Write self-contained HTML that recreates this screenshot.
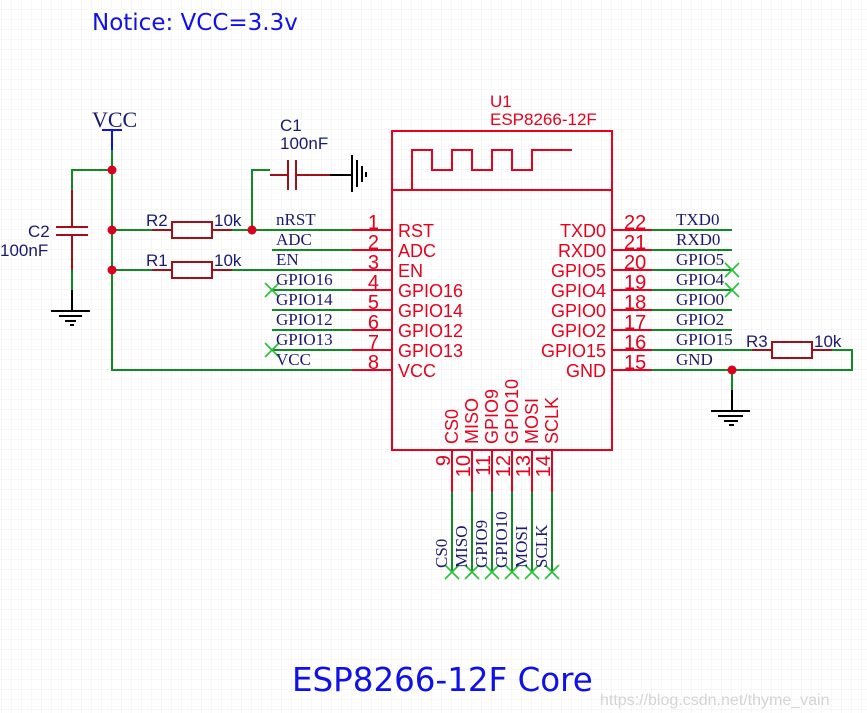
<!DOCTYPE html>
<html><head><meta charset="utf-8"><style>
html,body{margin:0;padding:0;background:#fff;}
svg{display:block}
.s{font-family:"Liberation Serif",serif;font-size:17px;fill:#1a1a6e}
.r{font-family:"Liberation Sans",sans-serif;fill:#e8001c}
.a{font-family:"Liberation Sans",sans-serif;fill:#1a1a6e;font-size:17px}
</style></head><body>
<svg width="867" height="713" viewBox="0 0 867 713" xmlns="http://www.w3.org/2000/svg">
<defs><pattern id="g" width="10" height="10" patternUnits="userSpaceOnUse" x="2" y="0"><path d="M10 0V10M0 10H10" stroke="#efefef" stroke-width="1" fill="none"/></pattern></defs>
<rect width="867" height="713" fill="url(#g)"/>
<text x="92" y="30" font-family="DejaVu Sans,Liberation Sans,sans-serif" font-size="23" fill="#1010e8">Notice: VCC=3.3v</text>
<text x="292" y="691" font-family="DejaVu Sans,Liberation Sans,sans-serif" font-size="32.5" fill="#1010e8">ESP8266-12F Core</text>
<text x="600" y="705" font-family="Liberation Sans,sans-serif" font-size="16" fill="#d4d4d4">https://blog.csdn.net/thyme_vain</text>

<g fill="none" stroke-width="2">
<g stroke="#e8001c">
<rect x="392" y="131" width="220" height="319"/>
<path d="M392 190H612"/>
<path d="M412 190V150H432V170H452V150H472V170H492V150H512V170H532V150H572"/>
<path d="M352 230H392M352 250H392M352 270H392M352 290H392M352 310H392M352 330H392M352 350H392M352 370H392"/>
<path d="M612 230H652M612 250H652M612 270H652M612 290H652M612 310H652M612 330H652M612 350H652M612 370H652"/>
<path d="M452 450V492M472 450V492M492 450V492M512 450V492M532 450V492M552 450V492"/>
</g>
<g stroke="#118a22">
<path d="M272 250H352M272 290H352M272 310H352M272 330H352M272 350H352"/>
<path d="M652 230H732M652 250H732M652 270H732M652 290H732M652 310H732M652 330H732"/>
<path d="M452 492V572M472 492V572M492 492V572M512 492V572M532 492V572M552 492V572"/>
<path d="M112 150V370H352"/>
<path d="M112 170H72V190M72 270V290"/>
<path d="M112 230H152M232 230H352M112 270H152M232 270H352"/>
<path d="M252 230V170H270"/>
<path d="M652 350H752M832 350H852V370H652M732 370V390"/>
</g>
<g stroke="#1010e8"><path d="M112 130V150M102 130H122"/></g>
<g stroke="#a01018">
<path d="M72 190V227M72 235V270M56 227H88M56 235H88"/>
<path d="M152 230H172M212 230H232M152 270H172M212 270H232"/>
<rect x="172" y="222" width="40" height="16"/><rect x="172" y="262" width="40" height="16"/>
<path d="M270 175H288M296 175H330M288 160V190M296 160V190"/>
<path d="M752 350H772M812 350H832"/><rect x="772" y="342" width="40" height="16"/>
</g>
<g stroke="#000">
<path d="M72 290V311M51 311H90M59 316H82M65 321H76M70 325H74"/>
<path d="M732 390V411M711 411H750M718 416H743M724 421H738M729 425H734"/>
<path d="M330 175H352M352 155V192M357 160V187M362 166V182M366 172V177"/>
</g>
<g stroke="#22c433" stroke-width="1.6">
<path d="M265 283L279 297M279 283L265 297M265 343L279 357M279 343L265 357"/>
<path d="M725 263L739 277M739 263L725 277M725 283L739 297M739 283L725 297"/>
<path d="M445 565L459 579M459 565L445 579M465 565L479 579M479 565L465 579M485 565L499 579M499 565L485 579M505 565L519 579M519 565L505 579M525 565L539 579M539 565L525 579M545 565L559 579M559 565L545 579"/>
</g>
</g>
<g fill="#d8001c"><circle cx="112" cy="170" r="4.5"/><circle cx="112" cy="230" r="4.5"/><circle cx="112" cy="270" r="4.5"/><circle cx="252" cy="230" r="4.5"/><circle cx="732" cy="370" r="4.5"/></g>

<text x="92" y="127" font-family="Liberation Serif,serif" font-size="22" fill="#1a1a6e">VCC</text>
<g class="a"><text x="28" y="237">C2</text><text x="0" y="256">100nF</text>
<text x="146" y="226">R2</text><text x="214" y="226">10k</text><text x="146" y="266">R1</text><text x="214" y="266">10k</text>
<text x="280" y="131">C1</text><text x="280" y="149">100nF</text>
<text x="746" y="347">R3</text><text x="814" y="347">10k</text></g>
<g class="s"><text x="276" y="225">nRST</text><text x="276" y="245">ADC</text><text x="276" y="265">EN</text><text x="276" y="285">GPIO16</text><text x="276" y="305">GPIO14</text><text x="276" y="325">GPIO12</text><text x="276" y="345">GPIO13</text><text x="276" y="365">VCC</text>
<text x="676" y="225">TXD0</text><text x="676" y="245">RXD0</text><text x="676" y="265">GPIO5</text><text x="676" y="285">GPIO4</text><text x="676" y="305">GPIO0</text><text x="676" y="325">GPIO2</text><text x="676" y="345">GPIO15</text><text x="676" y="365">GND</text>
<g transform="rotate(-90)"><text x="-568" y="447">CS0</text><text x="-568" y="467">MISO</text><text x="-568" y="487">GPIO9</text><text x="-568" y="507">GPIO10</text><text x="-568" y="527">MOSI</text><text x="-568" y="547">SCLK</text></g></g>
<g class="r" font-size="17"><text x="490" y="107">U1</text><text x="490" y="125">ESP8266-12F</text>
<g font-size="18"><text x="398" y="237">RST</text><text x="398" y="257">ADC</text><text x="398" y="277">EN</text><text x="398" y="297">GPIO16</text><text x="398" y="317">GPIO14</text><text x="398" y="337">GPIO12</text><text x="398" y="357">GPIO13</text><text x="398" y="377">VCC</text>
<g text-anchor="end"><text x="606" y="237">TXD0</text><text x="606" y="257">RXD0</text><text x="606" y="277">GPIO5</text><text x="606" y="297">GPIO4</text><text x="606" y="317">GPIO0</text><text x="606" y="337">GPIO2</text><text x="606" y="357">GPIO15</text><text x="606" y="377">GND</text></g></g>
<g font-size="20" text-anchor="end"><text x="379" y="229">1</text><text x="379" y="249">2</text><text x="379" y="269">3</text><text x="379" y="289">4</text><text x="379" y="309">5</text><text x="379" y="329">6</text><text x="379" y="349">7</text><text x="379" y="369">8</text></g>
<g font-size="20"><text x="624" y="229">22</text><text x="624" y="249">21</text><text x="624" y="269">20</text><text x="624" y="289">19</text><text x="624" y="309">18</text><text x="624" y="329">17</text><text x="624" y="349">16</text><text x="624" y="369">15</text></g>
<g transform="rotate(-90)"><g font-size="18"><text x="-444" y="458">CS0</text><text x="-444" y="478">MISO</text><text x="-444" y="498">GPIO9</text><text x="-444" y="518">GPIO10</text><text x="-444" y="538">MOSI</text><text x="-444" y="558">SCLK</text></g>
<g text-anchor="end" font-size="20"><text x="-455" y="450">9</text><text x="-455" y="470">10</text><text x="-455" y="490">11</text><text x="-455" y="510">12</text><text x="-455" y="530">13</text><text x="-455" y="550">14</text></g></g></g>
</svg>
</body></html>
